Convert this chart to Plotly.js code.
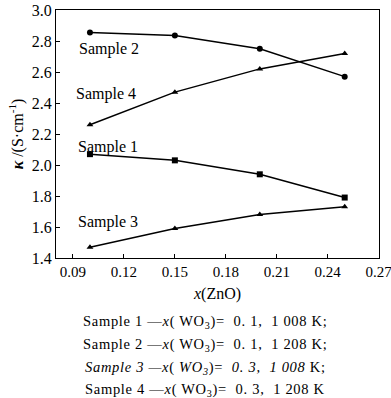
<!DOCTYPE html>
<html>
<head>
<meta charset="utf-8">
<script src="https://cdn.plot.ly/plotly-3.0.1.min.js"></script>
<style>
html,body{margin:0;padding:0;background:#fff;}
#chart{width:391px;height:398px;}
</style>
</head>
<body>
<div id="chart"></div>
<script>
const xZnO = [0.10, 0.15, 0.20, 0.25];
const sample1 = [2.07, 2.03, 1.94, 1.79];
const sample2 = [2.855, 2.835, 2.75, 2.57];
const sample3 = [1.47, 1.59, 1.68, 1.73];
const sample4 = [2.26, 2.47, 2.62, 2.72];
const seriesNames = ["Sample 1", "Sample 2", "Sample 3", "Sample 4"];
const xTicks = [0.09, 0.12, 0.15, 0.18, 0.21, 0.24, 0.27];
const yTicks = [1.4, 1.6, 1.8, 2.0, 2.2, 2.4, 2.6, 2.8, 3.0];
const captionLines = [
  "Sample 1 —<i>x</i>( WO<sub>3</sub>)=  0. 1,  1 008 K;",
  "Sample 2 —<i>x</i>( WO<sub>3</sub>)=  0. 1,  1 208 K;",
  "<i>Sample 3 —x</i>( <i>WO<sub>3</sub></i>)=  <i>0. 3,  1 008</i> K;",
  "Sample 4 —<i>x</i>( WO<sub>3</sub>)=  0. 3,  1 208 K"
];
// label anchor positions for series names (data coords)
const labelPos = [
  {x: 0.0915, y: 2.115},
  {x: 0.0925, y: 2.75},
  {x: 0.0915, y: 1.63},
  {x: 0.0905, y: 2.455}
];

const FONT = "Liberation Serif, Times New Roman, serif";
const lineStyle = {color: "#000", width: 1.5};
const allY = [sample1, sample2, sample3, sample4];
const symbols = ["square", "circle", "triangle-up", "triangle-up"];
const sizes = [6, 6, 6, 6];

const traces = allY.map((ys, i) => ({
  x: xZnO, y: ys, name: seriesNames[i], type: "scatter", mode: "lines+markers",
  line: lineStyle,
  marker: {symbol: symbols[i], size: sizes[i], color: "#000"},
  showlegend: false, hoverinfo: "x+y+name"
}));

const annotations = seriesNames.map((n, i) => ({
  x: labelPos[i].x, y: labelPos[i].y, xref: "x", yref: "y",
  text: n, showarrow: false, xanchor: "left", yanchor: "middle",
  font: {family: FONT, size: 16, color: "#000"}
}));

// plot area spans y = 10..258 px
const capY = [322, 345, 368, 390];
captionLines.forEach((t, i) => {
  annotations.push({
    x: (205 - 56) / 323, y: (258 - capY[i]) / 248, xref: "paper", yref: "paper",
    text: '<span style="letter-spacing:0.7px">' + t + '</span>', showarrow: false, xanchor: "center", yanchor: "middle",
    font: {family: FONT, size: 14.5, color: "#000"}
  });
});

const layout = {
  width: 391, height: 398,
  margin: {l: 56, r: 12, t: 10, b: 140},
  paper_bgcolor: "#fff", plot_bgcolor: "#fff",
  font: {family: FONT, size: 16, color: "#000"},
  xaxis: {
    range: [0.08, 0.2702], tickvals: xTicks, ticktext: xTicks.map(v => v.toFixed(2)),
    ticks: "inside", ticklen: 4, tickcolor: "#000", showline: true, linecolor: "#000",
    linewidth: 1, mirror: true, showgrid: false, zeroline: false,
    ticklabeloverflow: "allow",
    tickfont: {family: FONT, size: 15},
    title: {text: "<i>x</i>(ZnO)", font: {family: FONT, size: 16}, standoff: 8}
  },
  yaxis: {
    range: [1.4, 3.0], tickvals: yTicks, ticktext: yTicks.map(v => v.toFixed(1)),
    ticks: "inside", ticklen: 4, tickcolor: "#000", showline: true, linecolor: "#000",
    linewidth: 1, mirror: true, showgrid: false, zeroline: false,
    tickfont: {family: FONT, size: 16},
    title: {text: "<b><i>κ</i></b> /(S·cm<sup>-1</sup>)", font: {family: FONT, size: 16}, standoff: 4}
  },
  annotations: annotations
};

Plotly.newPlot("chart", traces, layout, {displayModeBar: false, staticPlot: true});
</script>
</body>
</html>
